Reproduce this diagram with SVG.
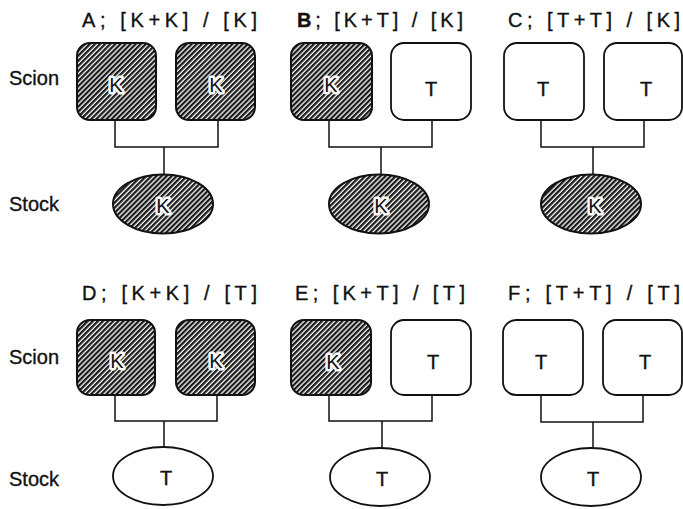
<svg xmlns="http://www.w3.org/2000/svg" width="683" height="509" viewBox="0 0 683 509">
<defs>
<pattern id="hatch" patternUnits="userSpaceOnUse" width="3.6" height="3.6" patternTransform="rotate(45)">
<rect width="3.6" height="3.6" fill="#fff"/>
<rect x="0" y="0" width="2.3" height="3.6" fill="#1a1a1a"/>
</pattern>
</defs>
<style>
text{font-family:"Liberation Sans",Arial,sans-serif;fill:#111;stroke:#111;stroke-width:0.35px}
.title{font-size:20px}
.side{font-size:20px}
.lbl{font-size:20px;text-anchor:middle}
.halo{stroke:#fff;stroke-width:5px;paint-order:stroke;stroke-linejoin:round}
.k{fill:url(#hatch);stroke:#111;stroke-width:2}
.t{fill:#fff;stroke:#111;stroke-width:1.8}
.conn{fill:none;stroke:#111;stroke-width:1.5}
</style>
<rect width="683" height="509" fill="#fff"/>

<g id="row-labels">
<text class="side" x="9" y="85">Scion</text>
<text class="side" x="9" y="211">Stock</text>
<text class="side" x="9" y="364">Scion</text>
<text class="side" x="9" y="486">Stock</text>
</g>

<g id="titles">
<text class="title" x="82" y="27" textLength="175" lengthAdjust="spacing">A; [K+K] / [K]</text>
<text class="title" x="297" y="27" textLength="166" lengthAdjust="spacing"><tspan font-weight="bold">B</tspan>; [K+T] / [K]</text>
<text class="title" x="508" y="27" textLength="172" lengthAdjust="spacing">C; [T+T] / [K]</text>
<text class="title" x="82" y="300" textLength="175" lengthAdjust="spacing">D; [K+K] / [T]</text>
<text class="title" x="295" y="300" textLength="170" lengthAdjust="spacing">E; [K+T] / [T]</text>
<text class="title" x="508" y="300" textLength="172" lengthAdjust="spacing">F; [T+T] / [T]</text>
</g>

<g id="connectors">
<path class="conn" d="M115 120V147H218V120M164 147V174"/>
<path class="conn" d="M329 120V147H432V120M381 147V174"/>
<path class="conn" d="M541 120V147H644V120M593 147V175"/>
<path class="conn" d="M115 395V421H217V395M164 421V447"/>
<path class="conn" d="M329 395V421H432V395M382 421V448"/>
<path class="conn" d="M541 395V422H643V395M593 422V448"/>
</g>

<g id="A-scion1"><rect class="k" x="77" y="43" width="79" height="77" rx="13"/><text class="lbl halo" x="116" y="92">K</text></g>
<g id="A-scion2"><rect class="k" x="176" y="43" width="79" height="77" rx="13"/><text class="lbl halo" x="216" y="92">K</text></g>
<g id="A-stock"><ellipse class="k" cx="163" cy="204" rx="50" ry="29.5"/><text class="lbl halo" x="163" y="213">K</text></g>

<g id="B-scion1"><rect class="k" x="291" y="43" width="81" height="77" rx="13"/><text class="lbl halo" x="331" y="92">K</text></g>
<g id="B-scion2"><rect class="t" x="391" y="43" width="80" height="77" rx="13"/><text class="lbl" x="431" y="96">T</text></g>
<g id="B-stock"><ellipse class="k" cx="379" cy="204" rx="50" ry="29.5"/><text class="lbl halo" x="381" y="213">K</text></g>

<g id="C-scion1"><rect class="t" x="504" y="43" width="80" height="77" rx="13"/><text class="lbl" x="543" y="96">T</text></g>
<g id="C-scion2"><rect class="t" x="604" y="43" width="78" height="77" rx="13"/><text class="lbl" x="646" y="96">T</text></g>
<g id="C-stock"><ellipse class="k" cx="591" cy="204" rx="50" ry="29.5"/><text class="lbl halo" x="595" y="213">K</text></g>

<g id="D-scion1"><rect class="k" x="77" y="320" width="78" height="75" rx="13"/><text class="lbl halo" x="117" y="368">K</text></g>
<g id="D-scion2"><rect class="k" x="176" y="320" width="79" height="75" rx="13"/><text class="lbl halo" x="216" y="368">K</text></g>
<g id="D-stock"><ellipse class="t" cx="163" cy="476" rx="50" ry="29"/><text class="lbl" x="166" y="485">T</text></g>

<g id="E-scion1"><rect class="k" x="291" y="320" width="80" height="75" rx="13"/><text class="lbl halo" x="333" y="369">K</text></g>
<g id="E-scion2"><rect class="t" x="391" y="320" width="80" height="75" rx="13"/><text class="lbl" x="433" y="369">T</text></g>
<g id="E-stock"><ellipse class="t" cx="380" cy="477" rx="50" ry="29"/><text class="lbl" x="382" y="486">T</text></g>

<g id="F-scion1"><rect class="t" x="503" y="320" width="80" height="75" rx="13"/><text class="lbl" x="541" y="369">T</text></g>
<g id="F-scion2"><rect class="t" x="603" y="320" width="79" height="75" rx="13"/><text class="lbl" x="645" y="369">T</text></g>
<g id="F-stock"><ellipse class="t" cx="591" cy="477" rx="50" ry="29"/><text class="lbl" x="593" y="486">T</text></g>
</svg>
